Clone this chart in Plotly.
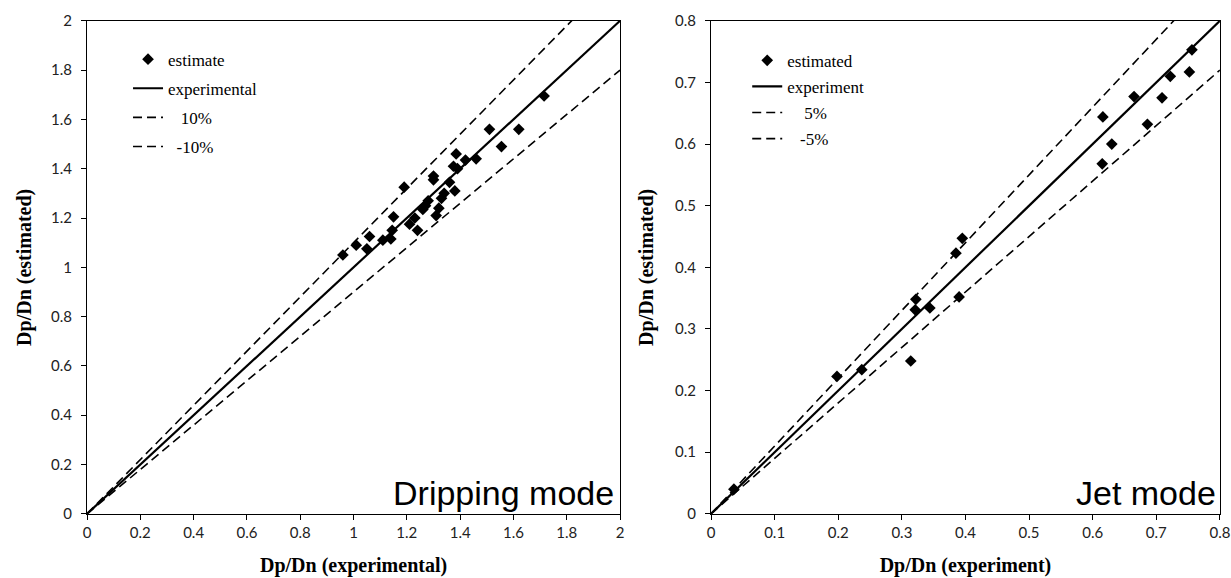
import plotly.graph_objects as go

# ---------------- data ----------------
drip_exp = [0.96, 1.01, 1.05, 1.06, 1.11, 1.14, 1.145, 1.15, 1.19, 1.21, 1.23, 1.24,
            1.26, 1.27, 1.28, 1.30, 1.30, 1.31, 1.32, 1.33, 1.34, 1.36, 1.38, 1.375,
            1.39, 1.385, 1.42, 1.46, 1.51, 1.555, 1.62, 1.715]
drip_est = [1.05, 1.09, 1.075, 1.125, 1.11, 1.115, 1.15, 1.205, 1.325, 1.175, 1.20, 1.15,
            1.235, 1.25, 1.27, 1.355, 1.37, 1.21, 1.24, 1.28, 1.30, 1.345, 1.31, 1.41,
            1.40, 1.46, 1.435, 1.44, 1.56, 1.49, 1.56, 1.695]

jet_exp = [0.036, 0.198, 0.237, 0.314, 0.321, 0.322, 0.344, 0.385, 0.390, 0.395,
           0.615, 0.616, 0.630, 0.665, 0.686, 0.709, 0.722, 0.752, 0.756]
jet_est = [0.040, 0.223, 0.234, 0.248, 0.331, 0.348, 0.334, 0.423, 0.352, 0.447,
           0.568, 0.644, 0.600, 0.677, 0.632, 0.675, 0.710, 0.717, 0.753]

drip_ticks = [0, 0.2, 0.4, 0.6, 0.8, 1, 1.2, 1.4, 1.6, 1.8, 2]
drip_ticktext = ["0", "0.2", "0.4", "0.6", "0.8", "1", "1.2", "1.4", "1.6", "1.8", "2"]
jet_ticks = [0, 0.1, 0.2, 0.3, 0.4, 0.5, 0.6, 0.7, 0.8]
jet_ticktext = ["0", "0.1", "0.2", "0.3", "0.4", "0.5", "0.6", "0.7", "0.8"]

drip_line = [0, 2.0]
jet_line = [0, 0.8]
upper_factor = 1.1
lower_factor = 0.9

drip_names = ["estimate", "experimental", "\u00a0\u00a0\u00a010%", "\u00a0\u00a0-10%"]
jet_names = ["estimated", "experiment", "\u00a0\u00a0\u00a0\u00a05%", "\u00a0\u00a0\u00a0-5%"]

SERIF = "Liberation Serif"
SANS = "Lato"

fig = go.Figure()


def add_panel(xa, ya, xs, ys, line, names, legend):
    fig.add_trace(go.Scatter(
        x=xs, y=ys, mode="markers", name=names[0], xaxis=xa, yaxis=ya,
        marker=dict(symbol="diamond", size=9, color="black"),
        legend=legend, legendgroup=legend + "a"))
    fig.add_trace(go.Scatter(
        x=line, y=line, mode="lines", name=names[1], xaxis=xa, yaxis=ya,
        line=dict(color="black", width=2.2),
        legend=legend, legendgroup=legend + "b"))
    fig.add_trace(go.Scatter(
        x=line, y=[v * upper_factor for v in line], mode="lines", name=names[2],
        xaxis=xa, yaxis=ya, line=dict(color="black", width=1.6, dash="9px,5px"),
        legend=legend, legendgroup=legend + "c"))
    fig.add_trace(go.Scatter(
        x=line, y=[v * lower_factor for v in line], mode="lines", name=names[3],
        xaxis=xa, yaxis=ya, line=dict(color="black", width=1.6, dash="9px,5px"),
        legend=legend, legendgroup=legend + "d"))


add_panel("x", "y", drip_exp, drip_est, drip_line, drip_names, "legend")
add_panel("x2", "y2", jet_exp, jet_est, jet_line, jet_names, "legend2")

common = dict(showline=True, linecolor="black", linewidth=1.2, mirror=True,
              ticks="outside", ticklen=5, tickcolor="black", tickwidth=1,
              showgrid=False, zeroline=False, automargin=False,
              tickfont=dict(family=SANS, size=15, color="#222"))
title_font = dict(family=SERIF, size=20, color="black")

ydom = [0.111, 0.964]
fig.update_layout(
    width=1231, height=578,
    margin=dict(l=0, r=0, t=0, b=0),
    paper_bgcolor="white", plot_bgcolor="white",
    xaxis=dict(domain=[0.0707, 0.5037], range=[0, 2], tickvals=drip_ticks,
               ticktext=drip_ticktext, anchor="y", ticklabelstandoff=0,
               title=dict(text="<b>Dp/Dn (experimental)</b>", font=title_font, standoff=18),
               **common),
    yaxis=dict(domain=ydom, range=[0, 2], tickvals=drip_ticks,
               ticktext=drip_ticktext, anchor="x", ticklabelstandoff=6,
               title=dict(text="<b>Dp/Dn (estimated)</b>", font=title_font, standoff=13),
               **common),
    xaxis2=dict(domain=[0.5776, 0.991], range=[0, 0.8], tickvals=jet_ticks,
                ticktext=jet_ticktext, anchor="y2", ticklabelstandoff=0,
                title=dict(text="<b>Dp/Dn (experiment)</b>", font=title_font, standoff=18),
                **common),
    yaxis2=dict(domain=ydom, range=[0, 0.8], tickvals=jet_ticks,
                ticktext=jet_ticktext, anchor="x2", ticklabelstandoff=6,
                title=dict(text="<b>Dp/Dn (estimated)</b>", font=title_font, standoff=15),
                **common),
    legend=dict(x=0.104, y=0.928, xanchor="left", yanchor="top",
                font=dict(family=SERIF, size=17, color="black"),
                bgcolor="rgba(0,0,0,0)", tracegroupgap=4),
    legend2=dict(x=0.607, y=0.926, xanchor="left", yanchor="top",
                 font=dict(family=SERIF, size=17, color="black"),
                 bgcolor="rgba(0,0,0,0)", tracegroupgap=1),
    annotations=[
        dict(text="Dripping mode", xref="x domain", yref="y domain", x=0.992, y=0.0,
             xanchor="right", yanchor="bottom", showarrow=False,
             font=dict(family="Liberation Sans", size=34, color="black")),
        dict(text="Jet mode", xref="x2 domain", yref="y2 domain", x=0.996, y=0.0,
             xanchor="right", yanchor="bottom", showarrow=False,
             font=dict(family="Liberation Sans", size=34, color="black")),
    ],
)

fig.write_html("out.html", config={"displayModeBar": False},
               post_script="document.body.style.margin='0';")
